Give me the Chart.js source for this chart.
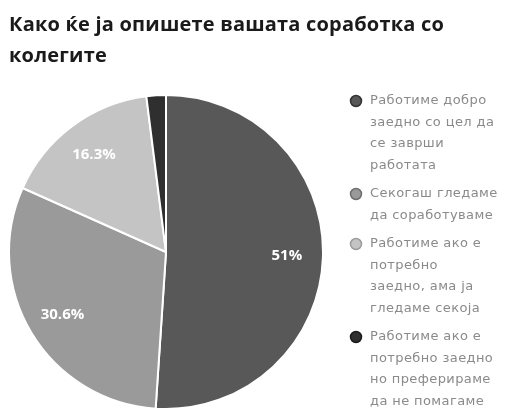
<!DOCTYPE html>
<html>
<head>
<meta charset="utf-8">
<script src="https://cdn.jsdelivr.net/npm/chart.js@4/dist/chart.umd.min.js"></script>
<style>
  html, body { margin: 0; padding: 0; background: #ffffff; }
  #wrap { width: 508px; height: 420px; }
</style>
</head>
<body>
<div id="wrap"><canvas id="chart" width="508" height="420"></canvas></div>
<script>
// Survey answers (each answer wrapped into the lines shown in the legend)
const categories = [
  ["Работиме добро", "заедно со цел да", "се заврши", "работата"],
  ["Секогаш гледаме", "да соработуваме"],
  ["Работиме ако е", "потребно", "заедно, ама ја", "гледаме секоја"],
  ["Работиме ако е", "потребно заедно", "но преферираме", "да не помагаме"]
];
// Share of respondents, in percent
const shares = [51, 30.6, 16.3, 2];
const titleLines = ["Како ќе ја опишете вашата соработка со", "колегите"];

const sliceColors = ["#585858", "#9a9a9a", "#c4c4c4", "#2f2f2f"];
const markerEdges = ["#333333", "#6e6e6e", "#9c9c9c", "#1c1c1c"];

// Two-line heading in the top-left corner
const heading = {
  id: "heading",
  afterDraw(chart) {
    const ctx = chart.ctx;
    ctx.save();
    ctx.font = "bold 20px 'Open Sans'";
    ctx.letterSpacing = "0.2px";
    ctx.fillStyle = "#1a1a1a";
    ctx.textAlign = "left";
    ctx.textBaseline = "alphabetic";
    titleLines.forEach((line, i) => ctx.fillText(line, 9, 31 + i * 31));
    ctx.restore();
  }
};

// Percentage text placed inside the larger slices
const sliceLabels = {
  id: "sliceLabels",
  afterDatasetsDraw(chart) {
    const ctx = chart.ctx;
    const meta = chart.getDatasetMeta(0);
    ctx.save();
    ctx.font = "bold 15px 'Open Sans'";
    ctx.fillStyle = "#ffffff";
    ctx.textAlign = "center";
    ctx.textBaseline = "middle";
    meta.data.forEach((arc, i) => {
      const v = chart.data.datasets[0].data[i];
      if (v < 5) return;
      const p = arc.getProps(["x", "y", "startAngle", "endAngle", "outerRadius"], true);
      const mid = (p.startAngle + p.endAngle) / 2;
      const r = p.outerRadius * 0.77;
      ctx.fillText(v + "%", p.x + Math.cos(mid) * r, p.y + Math.sin(mid) * r);
    });
    ctx.restore();
  }
};

// Legend on the right with wrapped, multi-line entries
const sideLegend = {
  id: "sideLegend",
  afterDraw(chart) {
    const ctx = chart.ctx;
    const ds = chart.data.datasets[0];
    const x0 = 356, tx = 370, lineH = 21.5, gap = 7;
    let y = 101;
    ctx.save();
    ctx.font = "13px 'DejaVu Sans'";
    ctx.letterSpacing = "0.4px";
    ctx.textAlign = "left";
    ctx.textBaseline = "middle";
    chart.data.labels.forEach((lines, i) => {
      ctx.beginPath();
      ctx.arc(x0, y, 5.5, 0, Math.PI * 2);
      ctx.fillStyle = ds.backgroundColor[i];
      ctx.fill();
      ctx.lineWidth = 1.5;
      ctx.strokeStyle = markerEdges[i];
      ctx.stroke();
      ctx.fillStyle = "#8a8a8a";
      lines.forEach((line, j) => {
        ctx.fillText(line, tx, y + j * lineH);
      });
      y += lines.length * lineH + gap;
    });
    ctx.restore();
  }
};

new Chart(document.getElementById("chart"), {
  type: "pie",
  data: {
    labels: categories,
    datasets: [{
      data: shares,
      backgroundColor: sliceColors,
      borderColor: "#ffffff",
      borderWidth: 2
    }]
  },
  options: {
    responsive: false,
    animation: false,
    events: [],
    layout: { padding: { top: 94, left: 8, right: 184, bottom: 10 } },
    plugins: {
      legend: { display: false },
      tooltip: { enabled: false },
      title: { display: false }
    }
  },
  plugins: [heading, sliceLabels, sideLegend]
});
</script>
</body>
</html>
